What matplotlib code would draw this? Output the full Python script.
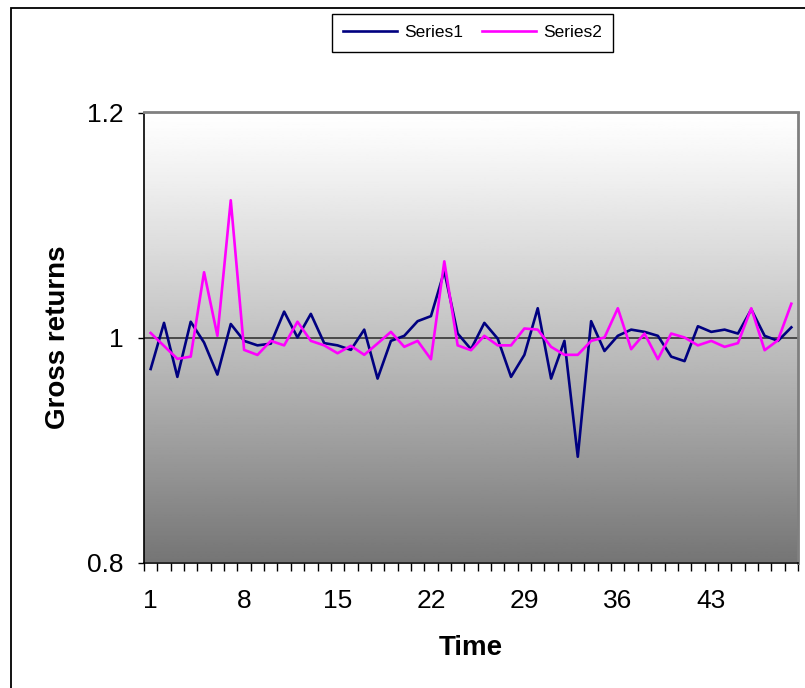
import numpy as np
import matplotlib
matplotlib.use("Agg")
import matplotlib.pyplot as plt
from matplotlib.patches import Rectangle

plt.rcParams["font.family"] = ["Liberation Sans", "DejaVu Sans"]

# gross returns per period
time = np.arange(1, 50)
series1 = [0.972, 1.013, 0.965, 1.014, 0.9955, 0.967, 1.012, 0.997, 0.993, 0.9945,
           1.023, 1.000, 1.021, 0.995, 0.993, 0.989, 1.007, 0.9635, 0.997, 1.0015,
           1.0145, 1.019, 1.059, 1.0035, 0.9896, 1.013, 0.999, 0.965, 0.9846, 1.026,
           0.9635, 0.997, 0.894, 1.0145, 0.988, 1.0015, 1.007, 1.005, 1.0015, 0.983,
           0.979, 1.010, 1.005, 1.007, 1.0035, 1.025, 1.0015, 0.997, 1.009]
series2 = [1.004, 0.9925, 0.981, 0.983, 1.058, 1.0015, 1.122, 0.989, 0.9845, 0.997,
           0.993, 1.014, 0.997, 0.993, 0.986, 0.9926, 0.9846, 0.9947, 1.005, 0.9917,
           0.997, 0.9807, 1.0677, 0.993, 0.9887, 1.0015, 0.993, 0.993, 1.008, 1.007,
           0.9917, 0.9846, 0.9846, 0.997, 1.000, 1.026, 0.9896, 1.0035, 0.9807, 1.0035,
           1.000, 0.993, 0.997, 0.9917, 0.995, 1.026, 0.9887, 0.9976, 1.030]
xtick_labels = [1, 8, 15, 22, 29, 36, 43]
ytick_values = [0.8, 1.0, 1.2]

W, H = 805, 688
fig = plt.figure(figsize=(W / 100, H / 100), dpi=100)
ax = fig.add_axes([144 / W, 1 - 562.5 / H, (798 - 144) / W, (562.5 - 112.5) / H])

# outer chart border (only top/left visible in the original)
fig.patches.append(Rectangle((11 / W, -0.1), 1.2, 1.1 - 8 / H, transform=fig.transFigure,
                             fill=False, edgecolor="black", lw=1.3))

# vertical grey gradient in the plot area, light at the top
t = np.linspace(0, 1, 256) ** 1.15
grad = (1.0 - 0.54 * t).reshape(-1, 1)
ax.imshow(grad, cmap="gray", vmin=0, vmax=1, aspect="auto",
          extent=[0, 1, 0, 1], transform=ax.transAxes, zorder=0)

ax.axhline(1.0, color="#404040", lw=1.3, zorder=1)
ax.plot(time, series1, color="#000080", lw=1.9, label="Series1", zorder=3)
ax.plot(time, series2, color="#ff00ff", lw=1.9, label="Series2", zorder=4)

ax.set_xlim(0.5, 49.5)
ax.set_ylim(0.8, 1.2)

ax.set_yticks(ytick_values)
ax.set_yticklabels(["0.8", "1", "1.2"])
ax.set_xticks(xtick_labels)
ax.set_xticklabels([str(v) for v in xtick_labels])
ax.set_xticks(np.arange(0.5, 50.0, 1.0), minor=True)
ax.tick_params(axis="x", which="major", length=0, labelsize=19, pad=19)
ax.tick_params(axis="x", which="minor", length=5.5, width=1, color="black")
ax.tick_params(axis="y", which="major", length=4.5, width=1, labelsize=19, pad=10)

for side in ["left", "bottom"]:
    ax.spines[side].set_color("black")
    ax.spines[side].set_linewidth(1.2)
for side in ["top", "right"]:
    ax.spines[side].set_color("#808080")
    ax.spines[side].set_linewidth(2)

ax.set_xlabel("Time", fontsize=20, fontweight="bold", labelpad=16)
ax.set_ylabel("Gross returns", fontsize=20, fontweight="bold", labelpad=12)

ax.legend(loc="upper left", bbox_to_anchor=(332 / W, 1 - 14 / H),
          bbox_transform=fig.transFigure, ncol=2, fontsize=12.5,
          frameon=True, fancybox=False, edgecolor="black", framealpha=1,
          borderaxespad=0, handlelength=3.1, handletextpad=0.4,
          columnspacing=1.1, borderpad=0.65)
ax.get_legend().get_frame().set_linewidth(1.0)

fig.savefig("out.png", dpi=100)
